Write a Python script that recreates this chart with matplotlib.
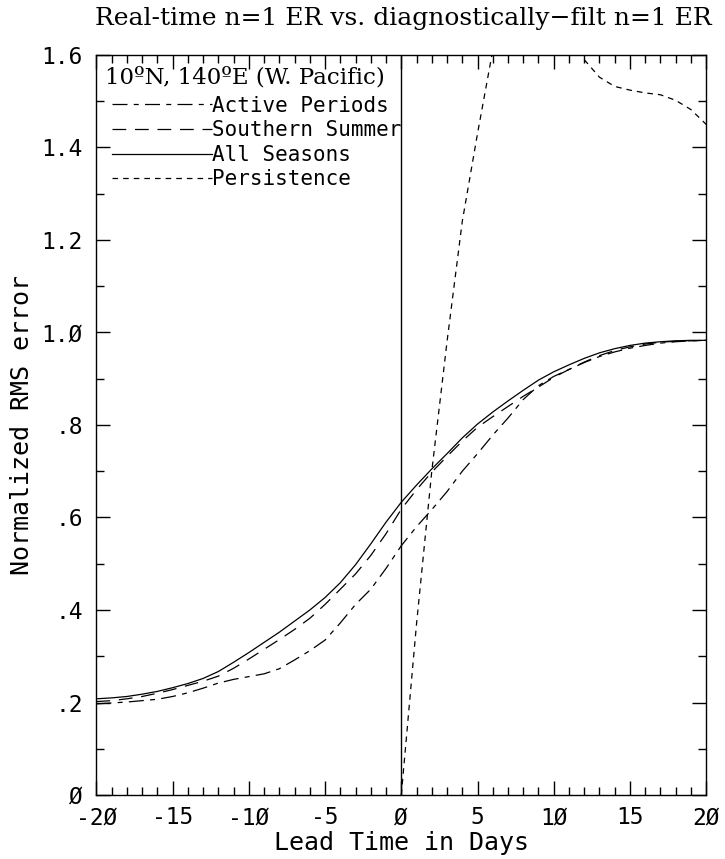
import matplotlib
matplotlib.use("Agg")
import matplotlib.pyplot as plt
from matplotlib.ticker import MultipleLocator, FuncFormatter

# lead time (days)
days = list(range(-20, 21))

all_seasons = [0.208, 0.210, 0.213, 0.218, 0.224, 0.232, 0.241, 0.252, 0.267, 0.287,
               0.308, 0.330, 0.352, 0.376, 0.400, 0.427, 0.459, 0.498, 0.543, 0.590,
               0.633,
               0.670, 0.705, 0.738, 0.772, 0.802, 0.828, 0.852, 0.875, 0.897, 0.915,
               0.930, 0.944, 0.956, 0.965, 0.972, 0.977, 0.980, 0.982, 0.983, 0.983]
southern_summer = [0.202, 0.204, 0.208, 0.213, 0.220, 0.228, 0.237, 0.246, 0.257, 0.274,
                   0.294, 0.315, 0.336, 0.358, 0.382, 0.412, 0.445, 0.478, 0.518, 0.565,
                   0.618,
                   0.660, 0.698, 0.732, 0.765, 0.795, 0.818, 0.840, 0.862, 0.882, 0.903,
                   0.920, 0.936, 0.950, 0.961, 0.969, 0.975, 0.979, 0.981, 0.982, 0.983]
active_periods = [0.197, 0.199, 0.201, 0.204, 0.207, 0.213, 0.221, 0.231, 0.242, 0.250,
                  0.256, 0.262, 0.273, 0.292, 0.312, 0.335, 0.372, 0.412, 0.445, 0.490,
                  0.539,
                  0.580, 0.617, 0.656, 0.700, 0.738, 0.778, 0.815, 0.855, 0.885, 0.905,
                  0.920, 0.935, 0.948, 0.958, 0.966, 0.972, 0.977, 0.980, 0.982, 0.983]

pers_days = list(range(0, 21))
persistence = [0.0, 0.37, 0.70, 0.98, 1.24, 1.43, 1.61, 1.75, 1.84, 1.86, 1.80,
               1.69, 1.59, 1.552, 1.532, 1.524, 1.518, 1.514, 1.502, 1.482, 1.45]

mono = "DejaVu Sans Mono"
serif = "DejaVu Serif"

fig = plt.figure(figsize=(7.25, 8.59), dpi=100)
ax = fig.add_axes([0.133, 0.0745, 0.841, 0.8615])

lw = 0.9
ax.plot(days, active_periods, color="black", lw=lw, dashes=(12, 5, 4, 5), label="Active Periods")
ax.plot(days, southern_summer, color="black", lw=lw, dashes=(11, 7), label="Southern Summer")
ax.plot(days, all_seasons, color="black", lw=lw, label="All Seasons")
ax.plot(pers_days, persistence, color="black", lw=lw, dashes=(4.5, 4), label="Persistence")
ax.axvline(0, color="black", lw=1.0)

ax.set_xlim(-20, 20)
ax.set_ylim(0, 1.6)

def zero_slash(s):
    return s.replace("0", "\u00d8")

def xfmt(v, pos):
    return zero_slash("%d" % round(v))

def yfmt(v, pos):
    if abs(v) < 1e-9:
        return "\u00d8"
    s = "%.1f" % v
    if s.startswith("0"):
        s = s[1:]
    return zero_slash(s)

ax.xaxis.set_major_locator(MultipleLocator(5))
ax.xaxis.set_minor_locator(MultipleLocator(1))
ax.yaxis.set_major_locator(MultipleLocator(0.2))
ax.yaxis.set_minor_locator(MultipleLocator(0.1))
ax.xaxis.set_major_formatter(FuncFormatter(xfmt))
ax.yaxis.set_major_formatter(FuncFormatter(yfmt))
ax.tick_params(which="both", direction="in", top=True, right=True, width=1.0)
ax.tick_params(which="major", length=10, labelsize=16.5)
ax.tick_params(axis="x", which="major", pad=8)
ax.tick_params(axis="y", which="major", pad=10)
ax.tick_params(which="minor", length=6)
for lab in ax.get_xticklabels() + ax.get_yticklabels():
    lab.set_fontfamily(mono)
for sp in ax.spines.values():
    sp.set_linewidth(1.0)

ax.set_xlabel("Lead Time in Days", fontfamily=mono, fontsize=18, labelpad=1)
ax.set_ylabel("Normalized RMS error", fontfamily=mono, fontsize=18, labelpad=5)

fig.text(0.982, 0.971, "Real-time n=1 ER vs. diagnostically\u2212filt n=1 ER",
         ha="right", va="baseline", fontfamily=serif, fontsize=18)

# legend title drawn as its own text, legend entries below it
ax.text(0.014, 0.970, "10\u00baN, 140\u00baE (W. Pacific)", transform=ax.transAxes,
        ha="left", va="center", fontfamily=serif, fontsize=16.5)
ax.legend(loc="upper left", bbox_to_anchor=(0.025, 0.945), frameon=False,
          handlelength=4.8, handletextpad=0.0, labelspacing=0.22,
          borderaxespad=0.0, borderpad=0.0, prop={"family": mono, "size": 15})

fig.savefig("out.png", dpi=100)
